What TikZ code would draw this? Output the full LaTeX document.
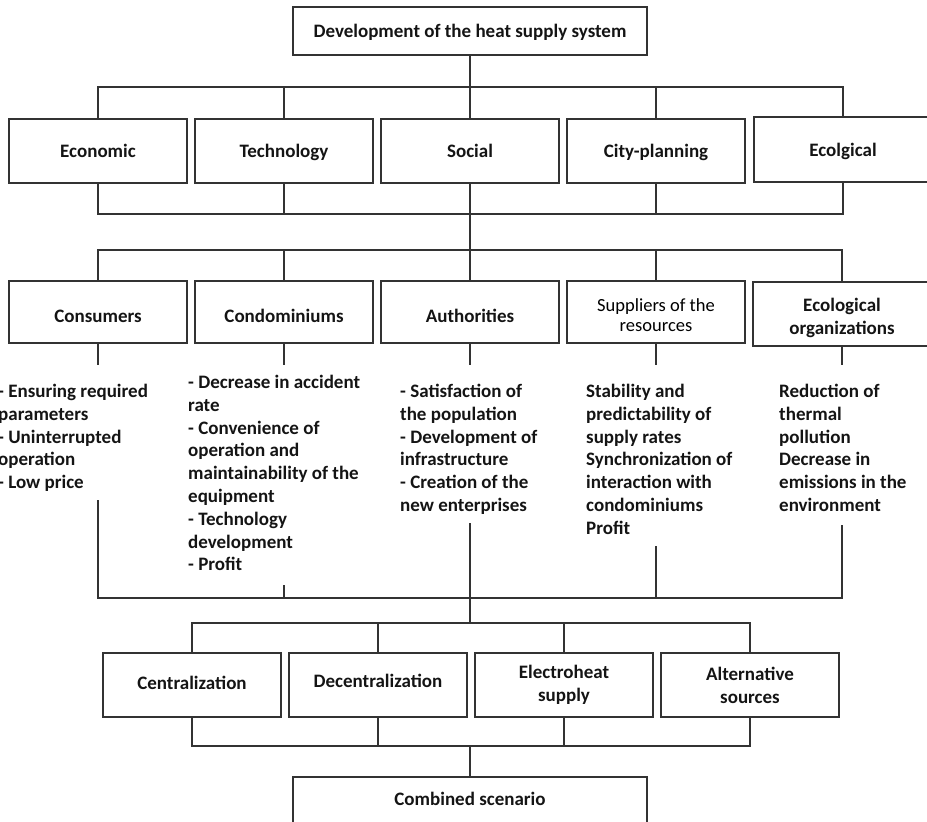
\documentclass[tikz,border=0pt]{standalone}
\usepackage{fontspec}
\setmainfont{Carlito}
\begin{document}
\begin{tikzpicture}[x=1pt,y=-1pt,
  every node/.style={font=\fontsize{19}{22.8}\selectfont\bfseries, text=black!92},
  box/.style={draw=black!80, line width=1.5pt, rectangle, inner sep=0pt, align=center, minimum height=64pt, minimum width=178pt},
  rowa/.style={text height=15pt, text depth=2pt},
  rowb/.style={text height=23pt, text depth=2pt},
  rowc/.style={text height=13pt, text depth=4pt},
  rowd/.style={text height=11pt, text depth=6pt},
  conn/.style={draw=black!80, line width=1.5pt},
  list/.style={anchor=north west, align=left, inner sep=0pt}]
\useasboundingbox (0,0) rectangle (927,822);
\clip (0,0) rectangle (927,822);
% top
\node[box, rowa, minimum width=354pt, minimum height=48pt] (top) at (470,31) {Development of the heat supply system};
% row 1
\node[box, rowa] (econ) at (98,151) {Economic};
\node[box, rowa] (tech) at (284,151) {Technology};
\node[box, rowa] (soc) at (470,151) {Social};
\node[box, rowa] (city) at (656,151) {City-planning};
\node[box, rowa, minimum height=65pt] (ecol) at (843,149.5) {Ecolgical};
% row 2
\node[box, rowb, minimum height=62pt] (cons) at (98,312) {Consumers};
\node[box, rowb, minimum height=62pt] (cond) at (284,312) {Condominiums};
\node[box, rowb, minimum height=62pt] (auth) at (470,312) {Authorities};
\node[box, minimum height=62pt] (supp) at (656,312) {};
\node[align=center, font=\fontsize{18.5}{20}\selectfont\mdseries, text=black] (supptext) at ([yshift=-3pt]supp.center) {Suppliers of the\\resources};
\node[box, minimum height=64pt] (ecoorg) at (842,314) {};
\node[align=center] (ecoorgtext) at ([yshift=-4pt]ecoorg.center) {Ecological\\organizations};
% texts
\node[list] (tcons) at (-2,384) {- Ensuring required\\parameters\\- Uninterrupted\\operation\\- Low price};
\node[list] (tcond) at (188,375) {- Decrease in accident\\rate\\- Convenience of\\operation and\\maintainability of the\\equipment\\- Technology\\development\\- Profit};
\node[list] (tauth) at (400,384) {- Satisfaction of\\the population\\- Development of\\infrastructure\\- Creation of the\\new enterprises};
\node[list] (tsupp) at (586,384) {Stability and\\predictability of\\supply rates\\Synchronization of\\interaction with\\condominiums\\Profit};
\node[list] (teco) at (779,384) {Reduction of\\thermal\\pollution\\Decrease in\\emissions in the\\environment};
% row 3
\node[box, rowc] (cent) at (192,685) {Centralization};
\node[box, rowd] (decent) at (378,685) {Decentralization};
\node[box] (elec) at (564,685) {Electroheat\\supply};
\node[box] (alt) at (750,685) {Alternative\\sources};
\node[box, rowc, minimum width=354pt, minimum height=48pt] (comb) at (470,801) {Combined scenario};
% coordinates
\coordinate (bus1) at (470,87);
\coordinate (bus2) at (470,214);
\coordinate (bus3) at (470,250);
\coordinate (stubend) at (470,365);
\coordinate (bus4) at (470,598);
\coordinate (bus5) at (470,623);
\coordinate (bus6) at (470,746);
\coordinate (l1) at (98,500);
\coordinate (l2) at (284,585);
\coordinate (l3) at (470,523);
\coordinate (l4) at (656,546);
\coordinate (l5) at (842,525);
% connectors
\draw[conn] (top.south) -- (soc.north);
\draw[conn] (econ.north) |- (ecol.north |- bus1) -- (ecol.north);
\draw[conn] (tech.north) -- (tech.north |- bus1);
\draw[conn] (city.north) -- (city.north |- bus1);
\draw[conn] (econ.south) |- (ecol.south |- bus2) -- (ecol.south);
\draw[conn] (tech.south) -- (tech.south |- bus2);
\draw[conn] (city.south) -- (city.south |- bus2);
\draw[conn] (soc.south) -- (auth.north);
\draw[conn] (cons.north) |- (ecoorg.north |- bus3) -- (ecoorg.north);
\draw[conn] (cond.north) -- (cond.north |- bus3);
\draw[conn] (supp.north) -- (supp.north |- bus3);
\foreach \n in {cons,cond,auth,supp,ecoorg}
  \draw[conn] (\n.south) -- (\n.south |- stubend);
\draw[conn] (l1) |- (l5 |- bus4) -- (l5);
\draw[conn] (l2) -- (l2 |- bus4);
\draw[conn] (l4) -- (l4 |- bus4);
\draw[conn] (l3) -- (l3 |- bus5);
\draw[conn] (cent.north) |- (alt.north |- bus5) -- (alt.north);
\draw[conn] (decent.north) -- (decent.north |- bus5);
\draw[conn] (elec.north) -- (elec.north |- bus5);
\draw[conn] (cent.south) |- (alt.south |- bus6) -- (alt.south);
\draw[conn] (decent.south) -- (decent.south |- bus6);
\draw[conn] (elec.south) -- (elec.south |- bus6);
\draw[conn] (bus6) -- (comb.north);
\end{tikzpicture}
\end{document}
